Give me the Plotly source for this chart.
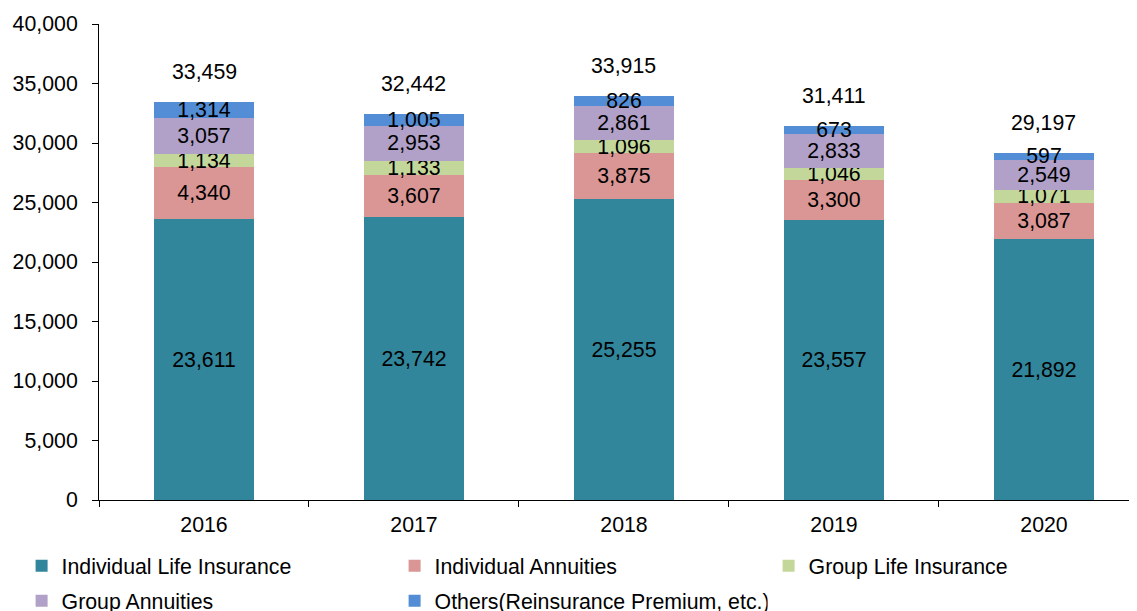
import plotly.graph_objects as go

years = ["2016", "2017", "2018", "2019", "2020"]
individual_life = [23611, 23742, 25255, 23557, 21892]
individual_annuities = [4340, 3607, 3875, 3300, 3087]
group_life = [1134, 1133, 1096, 1046, 1071]
group_annuities = [3057, 2953, 2861, 2833, 2549]
others = [1314, 1005, 826, 673, 597]
totals = [33459, 32442, 33915, 31411, 29197]

series = [
    ("Individual Life Insurance", individual_life, "#31869B", "legend"),
    ("Individual Annuities", individual_annuities, "#DA9694", "legend"),
    ("Group Life Insurance", group_life, "#C4D79B", "legend3"),
    ("Group Annuities", group_annuities, "#B1A0C7", "legend2"),
    ("Others(Reinsurance Premium, etc.)", others, "#538DD5", "legend2"),
]

FONT = "Liberation Sans, Arial, sans-serif"
FS = 21.3
W, H = 1129, 603  # page body has an 8px margin

fig = go.Figure()
for name, vals, col, lg in series:
    fig.add_trace(go.Bar(
        x=years, y=vals, name=name, legend=lg,
        marker=dict(color=col, line=dict(width=0)),
        width=0.476,
        text=[f"{v:,}" for v in vals],
        textposition="inside",
        insidetextanchor="middle",
        constraintext="none",
        textfont=dict(family=FONT, size=FS, color="black"),
        cliponaxis=False,
    ))

for i, t in enumerate(totals):
    fig.add_annotation(x=i, y=t, xref="x", yref="y", text=f"{t:,}", showarrow=False,
                       yshift=30, font=dict(family=FONT, size=FS, color="black"))

legend_common = dict(
    orientation="h",
    xref="container", yref="container",
    xanchor="left",
    yanchor="middle",
    entrywidth=328, entrywidthmode="pixels",
    font=dict(family=FONT, size=FS, color="black"),
    itemwidth=30,
    traceorder="normal",
    bgcolor="rgba(0,0,0,0)",
)

fig.update_layout(
    width=W, height=H,
    barmode="stack",
    plot_bgcolor="white", paper_bgcolor="white",
    margin=dict(l=91, r=0, t=16, b=111, autoexpand=False),
    font=dict(family=FONT, size=FS, color="black"),
    legend=dict(legend_common, x=13.6 / W, y=1 - 558 / H),
    legend3=dict(legend_common, x=(801 - 40.4) / W, y=1 - 558 / H),
    legend2=dict(legend_common, x=13.6 / W, y=1 - 593 / H),
    showlegend=True,
)
fig.update_xaxes(
    type="category",
    range=[-0.5, 4.443],
    showline=True, linecolor="black", linewidth=1,
    ticks="outside", tickson="boundaries", ticklen=6, tickcolor="black",
    tickfont=dict(family=FONT, size=FS),
    showgrid=False,
    ticklabelstandoff=5,
)
fig.update_yaxes(
    range=[0, 40000],
    tickvals=list(range(0, 40001, 5000)),
    tickformat=",",
    showline=True, linecolor="black", linewidth=1,
    ticks="outside", ticklen=6, tickcolor="black",
    tickfont=dict(family=FONT, size=FS),
    showgrid=False, zeroline=False,
    ticklabelstandoff=10,
)

fig.write_html("out.html")
